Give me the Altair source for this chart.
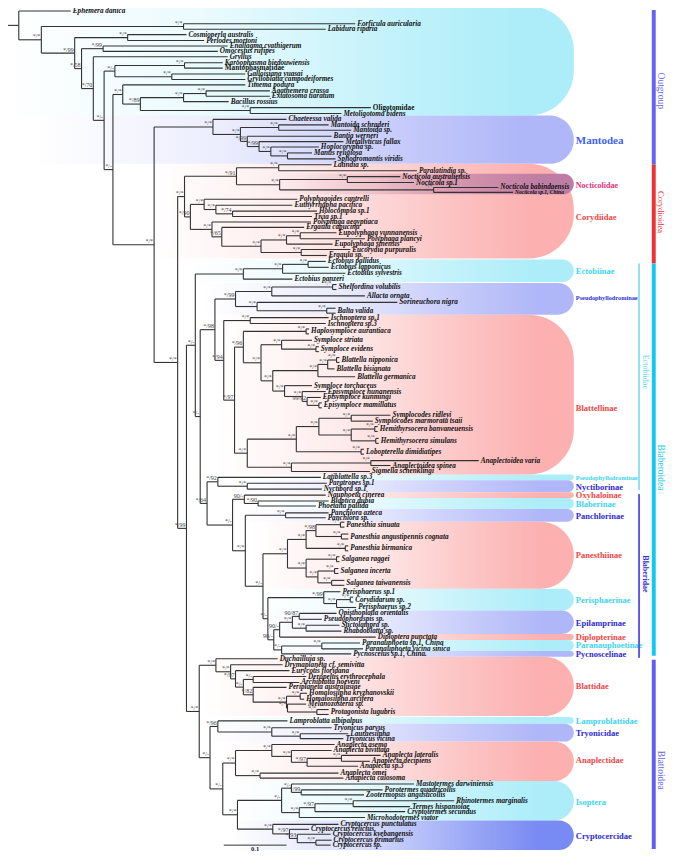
import altair as alt
import pandas as pd

W, H = 659, 846
XDOM = [3, 675]
YDOM = [4, 862]

LEAF_NAMES = [
    "Ephemera danica", "Forficula auricularia", "Labidura riparia", "Cosmioperla australis",
    "Perlodes mortoni", "Enallagma cyathigerum", "Omocestus rufipes", "Gryllus",
    "Karoophasma biedouwiensis", "Mantophasmatidae", "Galloisiana yuasai", "Grylloblatta campodeiformes",
    "Timema podura", "Agathemera crassa", "Extatosoma tiaratum", "Bacillus rossius",
    "Oligotomidae", "Metoligotoma bidens", "Chaeteessa valida", "Mantoida schraderi",
    "Mantoida sp.", "Bantia werneri", "Metallyticus fallax", "Hoplocorypha sp.",
    "Mantis religiosa", "Sphodromantis viridis", "Latindia sp.", "Paralatindia sp.",
    "Nocticola australiensis", "Nocticola sp.1", "Nocticola babindaensis", "Nocticola sp.1, China",
    "Polyphagoides cantrelli", "Euthyrrhapha pacifica", "Holocompsa sp.1", "Tivia sp.1",
    "Polyphaga aegyptiaca", "Ergaula capucina", "Eupolyphaga yunnanensis", "Polyphaga plancyi",
    "Eupolyphaga sinensis", "Eucorydia purpuralis", "Ergaula sp.", "Ectobius pallidus",
    "Ectobius lapponicus", "Ectobius sylvestris", "Ectobius panzeri", "Shelfordina volubilis",
    "Allacta ornata", "Sorineuchora nigra", "Balta valida", "Ischnoptera sp.1",
    "Ischnoptera sp.3", "Haplosymploce aurantiaca", "Symploce striata", "Symploce evidens",
    "Blattella nipponica", "Blattella bisignata", "Blattella germanica", "Symploce torchaceus",
    "Episymploce hunanensis", "Episymploce kunmingi", "Episymploce mamillatus", "Symplocodes ridleyi",
    "Symplocodes marmorata tsaii", "Hemithyrsocera banvaneuensis", "Hemithyrsocera simulans", "Lobopterella dimidiatipes",
    "Anaplectoidea varia", "Anaplectoidea spinea", "Sigmella schenklingi", "Latiblattella sp.3",
    "Paratropes sp.1", "Nyctibora sp.1", "Nauphoeta cinerea", "Blaptica dubia",
    "Phoetalia pallida", "Panchlora azteca", "Panchlora sp.", "Panesthia sinuata",
    "Panesthia angustipennis cognata", "Panesthia birmanica", "Salganea raggei", "Salganea incerta",
    "Salganea taiwanensis", "Perisphaerus sp.1", "Corydidarum sp.", "Perisphaerus sp.2",
    "Opisthoplatia orientalis", "Pseudophoraspis sp.", "Stictolampra sp.", "Rhabdoblatta sp.",
    "Diploptera punctata", "Paranauphoeta sp.1, China", "Paranauphoeta vicina sinica", "Pycnoscelus sp.1, China.",
    "Duchailluia sp.", "Drymaplaneta cf. semivitta", "Eurycotis floridana", "Deropeltis erythrocephala",
    "Archiblatta hoeveni", "Periplaneta australasiae", "Homalosilpha kryzhanovskii", "Homalosilpha arcifera",
    "Melanozosteria sp.", "Protagonista lugubris", "Lamproblatta albipalpus", "Tryonicus parvus",
    "Lauraesilpha", "Tryonicus vicina", "Anaplecta asema", "Anaplecta bivittata",
    "Anaplecta lateralis", "Anaplecta decipiens", "Anaplecta sp.3", "Anaplecta omei",
    "Anaplecta calosoma", "Mastotermes darwiniensis", "Porotermes quadricollis", "Zootermopsis angusticollis",
    "Rhinotermes marginalis", "Termes hispaniolae", "Cryptotermes secundus", "Microhodotermes viator",
    "Cryptocercus punctulatus", "Cryptocercus relictus", "Cryptocercus kyebangensis", "Cryptocercus primarius",
    "Cryptocercus sp.",
]
LEAF_Y = [
    7, 20, 25.5, 31, 37, 42.5, 48, 53.5, 59.5, 65, 71, 76.5, 82, 88, 93.5, 99,
    105, 111, 117, 122.5, 128, 134, 139.5, 145, 151, 157, 163, 169, 175, 181, 186, 191,
    198, 204, 210, 215.5, 221, 226.5, 232, 238, 243.5, 249, 255, 261, 267, 273, 279, 287,
    296, 302.5, 311, 318, 324, 332, 341, 350, 361, 370, 378, 387, 393, 399, 407, 417,
    423, 431, 443, 454, 463, 468, 474, 480, 486, 492, 498, 504, 509, 516, 521, 528,
    540, 552, 563, 575, 587, 596, 604, 612, 618, 624, 630, 636, 642, 648, 654, 659,
    664, 670, 676, 682, 688, 693, 699, 705, 710, 718, 727, 734, 740, 745, 751, 757,
    762, 768, 773, 780, 785, 791, 797, 802, 808, 814, 819, 825, 832, 837, 842, 848, 853,
]
LEAF_TIP_X = [
    67, 357, 327, 185, 203, 227, 217, 227, 222, 222, 245, 245, 245, 270, 270, 228,
    373, 343, 287, 330, 353, 333, 345, 320, 313, 337, 333, 420, 403, 417, 503, 518,
    298, 293, 318, 313, 312, 305, 338, 367, 334, 352, 328, 327, 330, 347, 293, 338,
    367, 400, 337, 330, 327, 310, 313, 320, 341, 336, 357, 313, 327, 322, 323, 393,
    375, 380, 381, 366, 483, 393, 372, 322, 328, 323, 327, 330, 317, 330, 327, 346,
    350, 350, 341, 340, 346, 342, 355, 358, 338, 323, 341, 343, 378, 362, 365, 353,
    278, 283, 290, 307, 300, 287, 308, 305, 307, 330, 288, 333, 350, 345, 336, 333,
    383, 372, 360, 340, 345, 417, 385, 366, 458, 413, 408, 367, 340, 310, 332, 333, 332,
]
ROMAN_LEAVES = [9, 16]
SMALL_LEAVES = [31]
PAIR_LEAVES = [47, 50, 53, 55, 56, 62, 65, 66, 67, 79, 80, 81, 82, 83, 84, 86, 105]
PAIR_NODE_X = [334, 328, 307, 317, 338, 320, 377, 378, 363, 342, 343, 347, 338, 336, 333, 352, 318]
PAIR_HALF = 2.5
ROOT_STEM_X = 0

# topology: "(children)x:support", leaves are indices into LEAF_NAMES
MANTODEA = "(18,((19,20)279:*/*,(21,(22,(23,(24,25)288:*/*)271:*/*)259:*/99)247:*/99)240:*/*)212:*/*"
NOCTICOLIDAE = "((26,27)279:*/*,((28,29)349:*/*,(30,31)437:*/*)280:*/*)236:*/91"
CORYDIIDAE = ("((32,(33,(34,35)232:*/74)215:*/*)203:*/*,(36,(37,(((38,39)301:*/*,40)287:*/*,"
              "(41,42)302:*/*)261:*/*)221:*/65)211:*/*)189:*/90")
ECTOBIINAE = "(((43,44)309:*/*,45)283:*/*,46)243:*/*"
PSEUDOPHYLLO = "((47,48)272:*/*,(49,50)257:*/*)235:*/99"
BLATTELLINAE = ("((51,52)250:*/*,((53,((54,55)282:*/*,(((56,57)329:*/*,58)319:*/*,(59,(60,(61,62)308:99/92)303:*/*)285:*/*)273:*/*)261:*/*)243:*/96,"
                "((((63,64)353:*/*,(65,66)353:*/*)320:*/*,67)297:*/*,((68,69)373:*/*,70)292:*/*)247:*/*)234:*/97)223:*/94")
BLABERIDAE = ("((74,(75,76)258:*/90)244:90/-,((77,78)286:*/*,((((79,80)317:*/98,81)307:*/*,(82,(83,84)319:*/*)307:*/*)288:*/*,"
              "((85,(86,87)338:*/*)325:*/99,((((88,89)300:90/87,(90,91)307:*/*)293:*/*,92)280:90/-,((93,94)323:*/*,95)282:*/-)274:90/-)268:*/-)263:*/-)245:*/*)232:*/-")
BLATTOIDEA = ("((96,(97,(98,((99,100)253:*/-,(101,((102,103)301:*/*,(104,105)288:*/*)287:*/*)253:*/82)243:*/-)235:*/97)230:*/*)215:*/*,"
              "((106,(107,(108,109)301:*/*)272:*/*)217:*/96,(((110,(111,((112,113)343:*/*,114)308:*/97)292:*/*)272:*/*,(115,116)260:*/*)235:*/*,"
              "(((117,(118,119)302:*/99)292:*/-,(((120,121)355:*/*,122)316:*/97,123)300:*/*)282:*/-,"
              "(124,(125,(126,(127,128)317:*/*)298:*/93)290:*/97)273:*/*)237:*/*)222:*/-)209:*/-)198:*/*")
BLABEROIDEA = (f"({ECTOBIINAE},(({PSEUDOPHYLLO},{BLATTELLINAE})214:*/98,"
               f"((71,(72,73)247:*/*)217:*/92,{BLABERIDAE})206:*/64)199:*/-)194:*/-")
BLATTODEA = f"(({NOCTICOLIDAE},{CORYDIIDAE})183:*/*,({BLABEROIDEA},{BLATTOIDEA})185:*/99)176:*/*"
TREE = (f"(0,((1,2)182:*/*,((3,4)125:*/*,((5,6)100:*/99,(7,(((8,9)183:*/*,(10,11)170:*/*)112:*/-,"
        f"((12,(((13,14)205:*/*,15)182:*/*,(16,17)250:*/*)138:*/89)120:*/*,({MANTODEA},{BLATTODEA})152:*/*)110:*/-)101:*/-)90:*/70)78:*/58)71:*/99)37:*/*)14:")

# coloured clade boxes
BOX_Y0 = [2, 113, 162, 172, 259, 283, 315, 477, 483, 495, 501, 512, 525, 593, 615, 639, 645, 656, 662, 723, 730, 748, 788, 828]
BOX_Y1 = [113, 162, 258, 193, 282, 315, 477, 483, 495, 501, 512, 525, 593, 615, 639, 645, 656, 662, 722, 730, 748, 788, 828, 858]
BOX_X0 = [0, 30, 150, 270, 185, 200, 215, 260, 230, 250, 250, 240, 250, 260, 260, 270, 270, 270, 200, 210, 210, 220, 230, 230]
BOX_KIND = ["c", "b", "p", "v", "c", "b", "p", "c", "b", "p", "c", "b", "p", "c", "b", "p", "c", "b", "p", "c", "b", "p", "c", "d"]
BOX_X1 = 580
KIND_RGB = {"c": (172, 237, 249), "b": (176, 183, 248), "p": (252, 176, 176), "v": (190, 126, 164), "d": (120, 138, 243)}

CLADE_NAMES = ["Mantodea", "Nocticolidae", "Corydiidae", "Ectobiinae", "Pseudophyllodrominae", "Blattellinae",
               "Pseudophyllodrominae", "Nyctiborinae", "Oxyhaloinae", "Blaberinae", "Panchlorinae", "Panesthiinae",
               "Perisphaerinae", "Epilamprinae", "Diplopterinae", "Paranauphoetinae", "Pycnoscelinae", "Blattidae",
               "Lamproblattidae", "Tryonicidae", "Anaplectidae", "Isoptera", "Cryptocercidae"]
CLADE_Y = [139, 185, 216, 271, 298, 410, 481, 490, 498, 507, 519, 559, 604, 628, 642, 650, 659, 692, 727, 739, 767, 809, 844]
CLADE_COLOR = ["#3f5ff0", "#e0307a", "#f04646", "#3cd4f0", "#3030d8", "#f04646",
               "#3cd4f0", "#2b2bd0", "#f04646", "#3cd4f0", "#2b2bd0", "#f04646",
               "#3cd4f0", "#2b2bd0", "#f04646", "#3cd4f0", "#2b2bd0", "#f04646",
               "#3cd4f0", "#2b2bd0", "#f04646", "#3cd4f0", "#2b2bd0"]
CLADE_SIZE = [11, 8, 8.5, 8.5, 6.3, 8.5, 6.3, 8.5, 8.5, 8.5, 8.5, 8.5, 8.5, 8.5, 8.5, 8.5, 8.5, 8.5, 8.5, 8.5, 8.5, 8.5, 8.5]
CLADE_X = 582

BAR_X0 = [659.5, 659.5, 659.5, 659.5, 645.5, 645.5]
BAR_X1 = [663.5, 663.5, 663.5, 663.5, 647.5, 647.5]
BAR_Y0 = [6, 163, 263, 665, 263, 497]
BAR_Y1 = [163, 263, 661, 857, 493, 663]
BAR_COLOR = ["#6464f0", "#f03232", "#10c8f0", "#6060f0", "#8ee3f5", "#5a5ae6"]

GROUP_NAMES = ["Outgroup", "Corydioidea", "Blaberoidea", "Blattoidea", "Ectobiidae", "Blaberidae"]
GROUP_X = [668.5, 668.5, 668.5, 668.5, 653, 653]
GROUP_Y = [88, 211, 470, 777, 373, 578]
GROUP_COLOR = ["#6a6ae6", "#f03a3a", "#22c8ec", "#6464ee", "#5fd6f0", "#3434cc"]
GROUP_SIZE = [9.5, 8.5, 9.5, 9.5, 8, 8]
GROUP_BOLD = [False, False, False, False, False, True]

SCALE_BAR_X = [223, 287]
SCALE_BAR_Y = 853
SCALE_BAR_LABEL = "0.1"


def parse(s, i=0):
    if s[i] == "(":
        i += 1
        kids = []
        while True:
            k, i = parse(s, i)
            kids.append(k)
            if s[i] == ",":
                i += 1
            else:
                i += 1
                break
        j = i
        while j < len(s) and s[j] not in ":,)":
            j += 1
        x = float(s[i:j])
        i = j
        lab = ""
        if i < len(s) and s[i] == ":":
            j = i + 1
            while j < len(s) and s[j] not in ",)":
                j += 1
            lab = s[i + 1:j]
            i = j
        return {"kids": kids, "x": x, "label": lab}, i
    j = i
    while s[j] not in ",)":
        j += 1
    return {"leaf": int(s[i:j])}, j


segs, sup = [], []


def layout(n):
    if "leaf" in n:
        i = n["leaf"]
        y = LEAF_Y[i]
        if i in PAIR_LEAVES:
            px = PAIR_NODE_X[PAIR_LEAVES.index(i)]
            segs.append((px, px, y - PAIR_HALF, y + PAIR_HALF))
            segs.append((px, LEAF_TIP_X[i], y - PAIR_HALF, y - PAIR_HALF))
            segs.append((px, LEAF_TIP_X[i], y + PAIR_HALF, y + PAIR_HALF))
            sup.append((px, y, "*/*"))
            return px, y
        return LEAF_TIP_X[i], y
    ys = []
    for k in n["kids"]:
        kx, ky = layout(k)
        segs.append((n["x"], kx, ky, ky))
        ys.append(ky)
    segs.append((n["x"], n["x"], min(ys), max(ys)))
    y = (ys[0] + ys[-1]) / 2
    if n["label"]:
        sup.append((n["x"], y, n["label"]))
    return n["x"], y


root, _ = parse(TREE)
rx, ry = layout(root)
segs.append((ROOT_STEM_X, rx, ry, ry))

seg_df = pd.DataFrame(segs, columns=["x", "x2", "y", "y2"])
sup_df = pd.DataFrame(sup, columns=["x", "y", "t"])
leaf_df = pd.DataFrame({"x": LEAF_TIP_X, "y": LEAF_Y, "t": LEAF_NAMES})
leaf_df["s"] = [5.5 if i in SMALL_LEAVES else 7.2 for i in range(len(LEAF_NAMES))]
leaf_df["roman"] = [i in ROMAN_LEAVES for i in range(len(LEAF_NAMES))]

XS = alt.Scale(domain=XDOM, nice=False, zero=False)
YS = alt.Scale(domain=YDOM, nice=False, zero=False, reverse=True)


def X(f="x"):
    return alt.X(f"{f}:Q", scale=XS, axis=None)


def Y(f="y"):
    return alt.Y(f"{f}:Q", scale=YS, axis=None)


layers = []
for kind, rgb in KIND_RGB.items():
    idx = [i for i, k in enumerate(BOX_KIND) if k == kind]
    df = pd.DataFrame({"x": [BOX_X0[i] for i in idx], "x2": [BOX_X1] * len(idx),
                       "y": [BOX_Y0[i] for i in idx], "y2": [BOX_Y1[i] for i in idx]})
    r, g, b = rgb
    grad = alt.Gradient(gradient="linear", x1=0, y1=0, x2=1, y2=0,
                        stops=[alt.GradientStop(color=f"rgba({r},{g},{b},0)", offset=0),
                               alt.GradientStop(color=f"rgba({r},{g},{b},0.25)", offset=0.35),
                               alt.GradientStop(color=f"rgba({r},{g},{b},0.75)", offset=0.7),
                               alt.GradientStop(color=f"rgba({r},{g},{b},1)", offset=0.9),
                               alt.GradientStop(color=f"rgba({r},{g},{b},1)", offset=1)])
    layers.append(alt.Chart(df).mark_rect(color=grad, cornerRadiusTopRight=45,
                                          cornerRadiusBottomRight=45).encode(
        x=X(), x2="x2:Q", y=Y(), y2="y2:Q"))

layers.append(alt.Chart(seg_df).mark_rule(color="#333333", strokeWidth=1.1).encode(
    x=X(), x2="x2:Q", y=Y(), y2="y2:Q"))

layers.append(alt.Chart(sup_df).mark_text(font="Liberation Serif", fontSize=6, fill="#444444",
                                          align="right", baseline="bottom", dx=-1, dy=-0.6).encode(
    x=X(), y=Y(), text="t:N"))

for roman in (False, True):
    d = leaf_df[leaf_df["roman"] == roman]
    layers.append(alt.Chart(d).mark_text(font="Liberation Serif", fontWeight="bold",
                                         fontStyle="normal" if roman else "italic",
                                         align="left", baseline="middle", dx=2, fill="#111111").encode(
        x=X(), y=Y(), text="t:N", size=alt.Size("s:Q", scale=None)))

clade_df = pd.DataFrame({"x": [CLADE_X] * len(CLADE_NAMES), "y": CLADE_Y, "t": CLADE_NAMES,
                         "c": CLADE_COLOR, "s": CLADE_SIZE})
layers.append(alt.Chart(clade_df).mark_text(font="Liberation Serif", fontWeight="bold",
                                            align="left", baseline="middle").encode(
    x=X(), y=Y(), text="t:N", color=alt.Color("c:N", scale=None), size=alt.Size("s:Q", scale=None)))

bar_df = pd.DataFrame({"x": BAR_X0, "x2": BAR_X1, "y": BAR_Y0, "y2": BAR_Y1, "c": BAR_COLOR})
layers.append(alt.Chart(bar_df).mark_rect().encode(
    x=X(), x2="x2:Q", y=Y(), y2="y2:Q", color=alt.Color("c:N", scale=None)))

grp_df = pd.DataFrame({"x": GROUP_X, "y": GROUP_Y, "t": GROUP_NAMES, "c": GROUP_COLOR,
                       "s": GROUP_SIZE, "b": GROUP_BOLD})
for bold in (False, True):
    d = grp_df[grp_df["b"] == bold]
    layers.append(alt.Chart(d).mark_text(font="Liberation Serif", angle=90,
                                         fontWeight="bold" if bold else "normal",
                                         align="center", baseline="middle").encode(
        x=X(), y=Y(), text="t:N", color=alt.Color("c:N", scale=None), size=alt.Size("s:Q", scale=None)))

sb_df = pd.DataFrame({"x": [SCALE_BAR_X[0]], "x2": [SCALE_BAR_X[1]], "y": [SCALE_BAR_Y],
                      "xm": [(SCALE_BAR_X[0] + SCALE_BAR_X[1]) / 2], "t": [SCALE_BAR_LABEL]})
layers.append(alt.Chart(sb_df).mark_rule(color="#333333", strokeWidth=1).encode(
    x=X(), x2="x2:Q", y=Y()))
layers.append(alt.Chart(sb_df).mark_text(font="Liberation Serif", fontWeight="bold", fontSize=6.5,
                                         baseline="top", dy=0.5, fill="#222222").encode(
    x=X("xm"), y=Y(), text="t:N"))

chart = alt.layer(*layers).properties(
    width=W, height=H, autosize=alt.AutoSizeParams(type="none"), padding=0,
    background="white").configure_view(stroke=None)

chart.save("out.html", embed_options={"renderer": "svg", "actions": False})
